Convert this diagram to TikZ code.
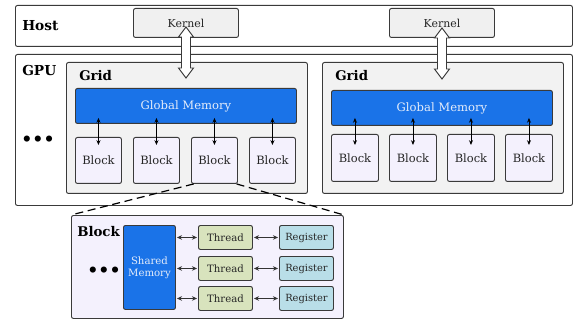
\documentclass[tikz,border=0pt]{standalone}
\usepackage{fontspec}
\setmainfont{DejaVu Serif}
\usetikzlibrary{arrows.meta,calc}
\definecolor{bordc}{HTML}{3A3A3A}
\definecolor{kerfill}{HTML}{F0F0F0}
\definecolor{gridfill}{HTML}{F2F2F2}
\definecolor{gmblue}{HTML}{1A73E8}
\definecolor{gmtext}{HTML}{E4ECFA}
\definecolor{blkfill}{HTML}{F4F1FD}
\definecolor{thrfill}{HTML}{D8E3BD}
\definecolor{regfill}{HTML}{B9DEE8}
\tikzset{
  box/.style={draw=bordc, line width=0.7pt, anchor=north west, inner sep=0pt, rounded corners=1.5pt, text=black!85},
  outerbox/.style={box, fill=white},
  kernelbox/.style={box, fill=kerfill, font=\fontsize{8.2}{9}\selectfont, minimum width=78.75pt, minimum height=21.75pt},
  gridbox/.style={box, fill=gridfill, minimum width=180.75pt, minimum height=98.25pt},
  gmbox/.style={box, fill=gmblue, text=gmtext, font=\fontsize{8.7}{10}\selectfont, minimum width=165.75pt, minimum height=26.25pt},
  blockbox/.style={box, fill=blkfill, font=\fontsize{8.6}{10}\selectfont, minimum width=34.5pt, minimum height=34.5pt},
  thrbox/.style={box, fill=thrfill, font=\fontsize{7.6}{9}\selectfont, minimum width=40.5pt, minimum height=18pt},
  regbox/.style={box, fill=regfill, font=\fontsize{7.4}{9}\selectfont, minimum width=40.5pt, minimum height=18pt},
  lbl/.style={font=\bfseries\fontsize{10.3}{12}\selectfont, anchor=west, inner sep=0pt},
  dots/.style={font=\bfseries\fontsize{13}{14}\selectfont, inner sep=0pt},
  sarrow/.style={{Stealth[length=3.6pt,width=3pt]}-{Stealth[length=3.6pt,width=3pt]}, line width=0.6pt, black},
  harrow/.style={{Stealth[length=3.8pt,width=3.4pt]}-{Stealth[length=3.8pt,width=3.4pt]}, line width=0.7pt, black!80},
  fatarrow/.style={draw=bordc, fill=white, line width=0.7pt, line join=miter},
  zoomline/.style={draw=black, line width=0.9pt, dash pattern=on 6pt off 3.5pt}
}
\newcommand{\fatarr}[3]{% x, top y, bottom y
  \draw[fatarrow] (#1,#2) -- ++(7.5,10) -- ++(-3,0) -- (#1+4.5,#3-10) -- ++(3,0) -- (#1,#3)
    -- ++(-7.5,-10) -- ++(3,0) -- (#1-4.5,#2+10) -- ++(-3,0) -- cycle;}
\begin{document}
\begin{tikzpicture}[x=0.75pt,y=-0.75pt]
\useasboundingbox (0,0) rectangle (577,320);
% host and gpu
\node[outerbox, minimum width=417.75pt, minimum height=30.75pt] (host) at (15,5) {};
\node[lbl] (hostlbl) at (22,26) {Host};
\node[outerbox, minimum width=417.75pt, minimum height=113.25pt] (gpu) at (15,54) {};
\node[lbl] (gpulbl) at (22,71) {GPU};
\node[dots] (gdots) at (38,141) {•••};
% kernels
\node[kernelbox] (k1) at (133,8) {Kernel};
\node[kernelbox] (k2) at (389,8) {Kernel};
% grids
\node[gridbox] (g1) at (66,62) {};
\node[lbl, font=\bfseries\fontsize{10}{12}\selectfont] (g1lbl) at (79,76) {Grid};
\node[gridbox] (g2) at (322,62) {};
\node[lbl, font=\bfseries\fontsize{10}{12}\selectfont] (g2lbl) at (335,76) {Grid};
% global memories
\node[gmbox] (gm1) at (75,88) {Global Memory};
\node[gmbox] (gm2) at (331,90) {Global Memory};
% blocks grid 1
\node[blockbox] (b11) at (75,137) {Block};
\node[blockbox] (b12) at (133,137) {Block};
\node[blockbox] (b13) at (191,137) {Block};
\node[blockbox] (b14) at (249,137) {Block};
% blocks grid 2
\node[blockbox, minimum width=35.25pt, minimum height=35.25pt] (b21) at (331,134) {Block};
\node[blockbox, minimum width=35.25pt, minimum height=35.25pt] (b22) at (389,134) {Block};
\node[blockbox, minimum width=35.25pt, minimum height=35.25pt] (b23) at (447,134) {Block};
\node[blockbox, minimum width=35.25pt, minimum height=35.25pt] (b24) at (505,134) {Block};
% arrows gm <-> blocks
\foreach \b in {b11,b12,b13,b14}{
  \draw[sarrow] ([yshift=4.5pt]\b.north |- gm1.south) -- ([yshift=-6pt]\b.north);
}
\foreach \b in {b21,b22,b23,b24}{
  \draw[sarrow] ([yshift=6pt]\b.north |- gm2.south) -- ([yshift=-8.25pt]\b.north);
}
% fat arrows
\fatarr{186}{27}{78}
\fatarr{442}{28}{79}
% block detail
\node[box, fill=blkfill, minimum width=204pt, minimum height=77.25pt] (det) at (71,215) {};
\draw[zoomline] ([xshift=2pt]b13.south west) -- (det.north west);
\draw[zoomline] ([xshift=-1pt]b13.south east) -- (det.north east);
\node[lbl, font=\bfseries\fontsize{10}{12}\selectfont] (detlbl) at (77,232) {Block};
\node[dots] (ddots) at (104,272) {•••};
\node[box, fill=gmblue, text=gmtext, font=\fontsize{7.6}{9}\selectfont, align=center, minimum width=39pt, minimum height=63pt] (shm) at (123,225) {Shared\\Memory};
\node[thrbox] (t1) at (198,225) {Thread};
\node[thrbox] (t2) at (198,256) {Thread};
\node[thrbox] (t3) at (198,286) {Thread};
\node[regbox] (r1) at (279,225) {Register};
\node[regbox] (r2) at (279,256) {Register};
\node[regbox] (r3) at (279,286) {Register};
\foreach \i in {1,2,3}{
  \draw[harrow] ([xshift=0.75pt]shm.east |- t\i.west) -- ([xshift=-0.75pt]t\i.west);
  \draw[harrow] ([xshift=0.75pt]t\i.east) -- ([xshift=-0.75pt]r\i.west);
}
\end{tikzpicture}
\end{document}
